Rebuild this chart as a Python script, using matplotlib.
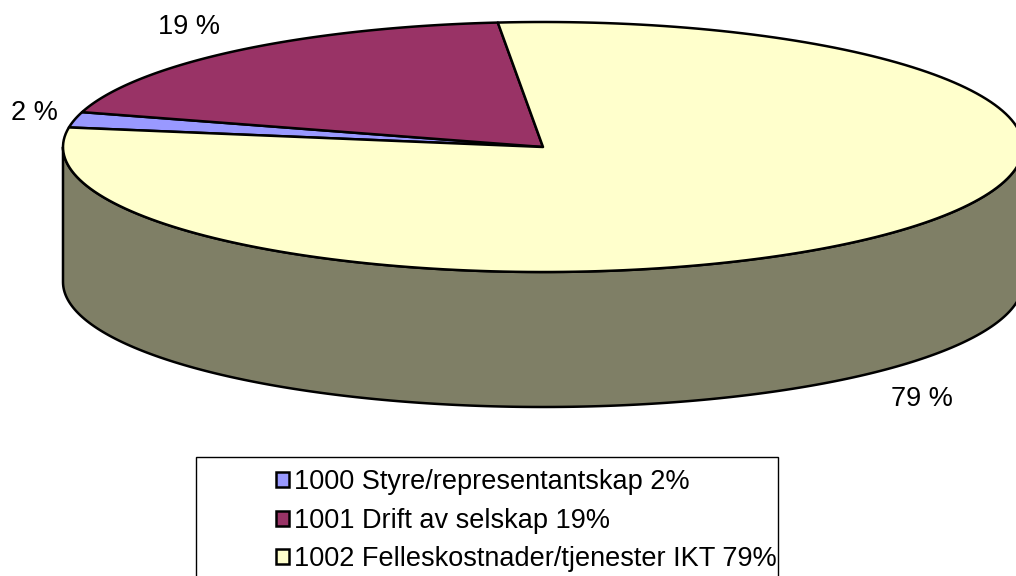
import numpy as np
import matplotlib.pyplot as plt
from matplotlib.patches import Polygon, Rectangle, Patch

# Data
labels = ['1000 Styre/representantskap 2%', '1001 Drift av selskap 19%',
          '1002 Felleskostnader/tjenester IKT 79%']
values = [2, 19, 79]
pct_labels = ['2 %', '19 %', '79 %']
colors = ['#9999FF', '#993366', '#FFFFCC']
side_colors = ['#4D4D80', '#4D1A33', '#7F7F66']

plt.rcParams['font.family'] = ['Liberation Sans', 'DejaVu Sans']

fig = plt.figure(figsize=(10.16, 5.76), dpi=100)
ax = fig.add_axes([0, 0, 1, 1])
ax.set_xlim(0, 1016)
ax.set_ylim(576, 0)
ax.axis('off')

# pie geometry (pixel space)
cx, cy = 543, 147
rx, ry = 480, 125
depth = 135
start = 171.0  # degrees, slices go clockwise


def arc(a1, a2, dy=0, n=200):
    t = np.radians(np.linspace(a1, a2, n))
    return np.column_stack([cx + rx * np.cos(t), cy - ry * np.sin(t) + dy])


total = float(sum(values))
angles = []
a = start
for v in values:
    span = 360.0 * v / total
    angles.append((a - span, a))
    a -= span

# front side walls (visible part is 180..360 deg)
for (a1, a2), sc in zip(angles, side_colors):
    for k in (-360, 0, 360):
        lo = max(a1 + k, 180)
        hi = min(a2 + k, 360)
        if hi > lo:
            top = arc(lo, hi)
            bot = arc(hi, lo, dy=depth)
            ax.add_patch(Polygon(np.vstack([top, bot]), closed=True,
                                 facecolor=sc, edgecolor='black', lw=1.8,
                                 joinstyle='round', zorder=1))

# top wedges
for (a1, a2), c in zip(angles, colors):
    pts = np.vstack([[cx, cy], arc(a1, a2)])
    ax.add_patch(Polygon(pts, closed=True, facecolor=c, edgecolor='black',
                         lw=1.8, joinstyle='round', zorder=2))

# percentage labels, just outside the rim at the slice middle
for (a1, a2), txt in zip(angles, pct_labels):
    m = np.radians((a1 + a2) / 2)
    c, s = np.cos(m), np.sin(m)
    x = cx + rx * c
    y = cy - ry * s
    if s < 0:
        y += depth
    if c < -0.3:
        ha, x = 'right', x - 20
    elif c > 0.3:
        ha, x = 'left', x + 16
    else:
        ha = 'center'
    y -= 36 * s if s < 0 else 31 * s
    ax.text(x + 3, y, txt, ha=ha, va='center', fontsize=19.5, zorder=3)

# legend
ax.add_patch(Rectangle((196, 457), 582, 130, facecolor='white',
                       edgecolor='black', lw=1.0, zorder=3))
handles = [Patch(facecolor=c, edgecolor='black', lw=1.8) for c in colors]
leg = ax.legend(handles, labels, loc='upper left',
                bbox_to_anchor=(276 / 1016, 1 - 469 / 576),
                frameon=False, fontsize=19.5, handlelength=0.48,
                handleheight=0.48, handletextpad=0.2, labelspacing=0.47,
                borderaxespad=0, borderpad=0)
leg.set_zorder(4)

fig.savefig('out.png', dpi=100)
